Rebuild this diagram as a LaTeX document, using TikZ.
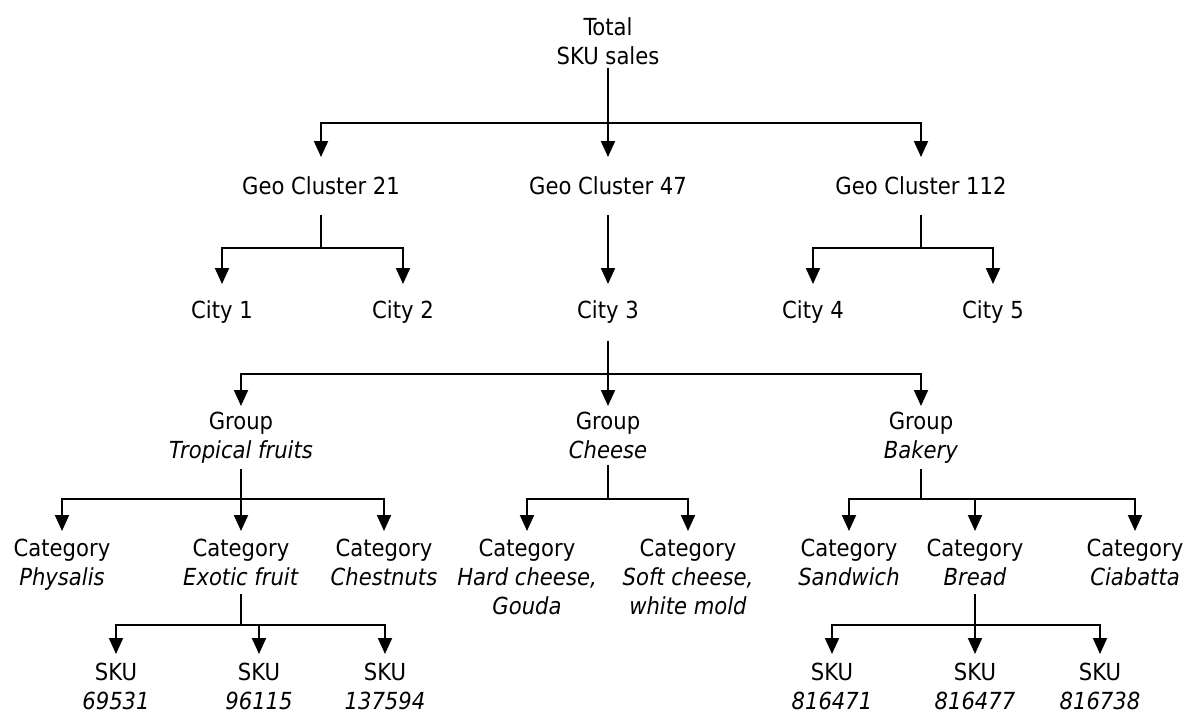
\documentclass[tikz,border=0pt]{standalone}
\usepackage{fontspec}
\setmainfont{DejaVu Sans Condensed}
\usepackage{tikz}
\usetikzlibrary{arrows.meta}

\begin{document}
\begin{tikzpicture}[x=1pt,y=-1pt,
	lbl/.style={align=center,inner sep=0pt,anchor=north,text=black,font=\fontsize{23.5}{29}\selectfont},
	top/.style={lbl,outer ysep=3pt},
	geo/.style={lbl,outer ysep=20pt},
	city/.style={lbl,outer ysep=17pt},
	grp/.style={lbl,outer ysep=6pt},
	cat/.style={lbl,outer ysep=8pt},
	sku/.style={lbl,outer ysep=9pt},
	feed/.style={line width=2pt,-{Triangle[length=16pt,width=14pt]}}]

\useasboundingbox (0,0) rectangle (1186,713);

\node[top] (root) at (608,15) {Total\\SKU sales};

\node[geo] (g21) at (321,157) {Geo Cluster 21};
\node[geo] (g47) at (608,157) {Geo Cluster 47};
\node[geo] (g112) at (921,157) {Geo Cluster 112};

\node[city] (c1) at (222,284) {City 1};
\node[city] (c2) at (403,284) {City 2};
\node[city] (c3) at (608,284) {City 3};
\node[city] (c4) at (813,284) {City 4};
\node[city] (c5) at (993,284) {City 5};

\node[grp] (grpT) at (241,406) {Group\\\textit{Tropical fruits}};
\node[grp] (grpC) at (608,406) {Group\\\textit{Cheese}};
\node[grp] (grpB) at (921,406) {Group\\\textit{Bakery}};

\node[cat] (cPhy) at (62,531) {Category\\\textit{Physalis}};
\node[cat] (cExo) at (241,531) {Category\\\textit{Exotic fruit}};
\node[cat] (cChe) at (384,531) {Category\\\textit{Chestnuts}};
\node[cat] (cHard) at (527,531) {Category\\\textit{Hard cheese,}\\\textit{Gouda}};
\node[cat] (cSoft) at (688,531) {Category\\\textit{Soft cheese,}\\\textit{white mold}};
\node[cat] (cSand) at (849,531) {Category\\\textit{Sandwich}};
\node[cat] (cBread) at (975,531) {Category\\\textit{Bread}};
\node[cat] (cCiab) at (1135,531) {Category\\\textit{Ciabatta}};

\node[sku] (s1) at (116,654) {SKU\\\textit{69531}};
\node[sku] (s2) at (259,654) {SKU\\\textit{96115}};
\node[sku] (s3) at (385,654) {SKU\\\textit{137594}};
\node[sku] (s4) at (832,654) {SKU\\\textit{816471}};
\node[sku] (s5) at (975,654) {SKU\\\textit{816477}};
\node[sku] (s6) at (1100,654) {SKU\\\textit{816738}};

\coordinate (j0) at (608,123);
\coordinate (j21) at (321,248);
\coordinate (j112) at (921,248);
\coordinate (j3) at (608,374);
\coordinate (jT) at (241,499);
\coordinate (jC) at (608,499);
\coordinate (jB) at (921,499);
\coordinate (jE) at (241,625);
\coordinate (jR) at (975,625);

\foreach \n in {g21,g47,g112}{
	\draw[feed] (root.south) -- (root.south |- j0) -| (\n.north);
}
\foreach \n in {c1,c2}{
	\draw[feed] (g21.south) -- (g21.south |- j21) -| (\n.north);
}
\draw[feed] (g47.south) -- (c3.north);
\foreach \n in {c4,c5}{
	\draw[feed] (g112.south) -- (g112.south |- j112) -| (\n.north);
}
\foreach \n in {grpT,grpC,grpB}{
	\draw[feed] (c3.south) -- (c3.south |- j3) -| (\n.north);
}
\foreach \n in {cPhy,cExo,cChe}{
	\draw[feed] (grpT.south) -- (grpT.south |- jT) -| (\n.north);
}
\foreach \n in {cHard,cSoft}{
	\draw[feed] (grpC.south) -- (grpC.south |- jC) -| (\n.north);
}
\foreach \n in {cSand,cBread,cCiab}{
	\draw[feed] (grpB.south) -- (grpB.south |- jB) -| (\n.north);
}
\foreach \n in {s1,s2,s3}{
	\draw[feed] (cExo.south) -- (cExo.south |- jE) -| (\n.north);
}
\foreach \n in {s4,s5,s6}{
	\draw[feed] (cBread.south) -- (cBread.south |- jR) -| (\n.north);
}

\end{tikzpicture}
\end{document}
